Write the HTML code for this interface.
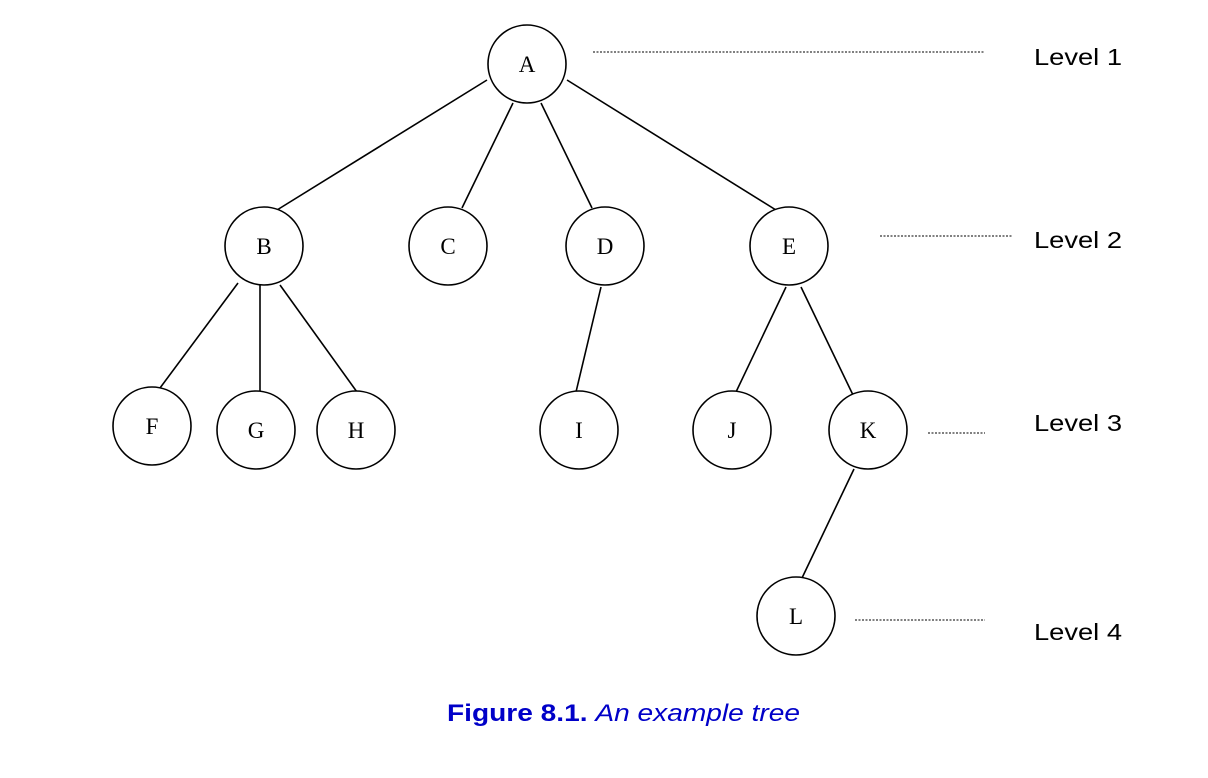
<!DOCTYPE html>
<html><head><meta charset="utf-8"><style>
html,body{margin:0;padding:0;background:#fff;}
svg{display:block;}
</style></head><body>
<svg width="1208" height="778" xmlns="http://www.w3.org/2000/svg">
<g stroke="#000" stroke-width="1.6" fill="none">
<line x1="487" y1="80" x2="277" y2="210"/>
<line x1="513" y1="103" x2="462" y2="208"/>
<line x1="541" y1="103" x2="592" y2="208"/>
<line x1="567" y1="80" x2="776" y2="210"/>
<line x1="238" y1="283" x2="160" y2="388"/>
<line x1="260" y1="285" x2="260" y2="392"/>
<line x1="280" y1="285" x2="357" y2="392"/>
<line x1="601" y1="287" x2="576" y2="392"/>
<line x1="786" y1="287" x2="736" y2="392"/>
<line x1="801" y1="287" x2="853" y2="395"/>
<line x1="854" y1="469" x2="802" y2="578"/>
</g>
<g stroke="#000" stroke-width="1" stroke-dasharray="2,1.5">
<line x1="593" y1="52" x2="985" y2="52"/>
<line x1="880" y1="236" x2="1012" y2="236"/>
<line x1="928" y1="433" x2="985" y2="433"/>
<line x1="855" y1="620" x2="985" y2="620"/>
</g>
<g stroke="#000" stroke-width="1.6" fill="#fff">
<circle cx="527" cy="64" r="39"/>
<circle cx="264" cy="246" r="39"/>
<circle cx="448" cy="246" r="39"/>
<circle cx="605" cy="246" r="39"/>
<circle cx="789" cy="246" r="39"/>
<circle cx="152" cy="426" r="39"/>
<circle cx="256" cy="430" r="39"/>
<circle cx="356" cy="430" r="39"/>
<circle cx="579" cy="430" r="39"/>
<circle cx="732" cy="430" r="39"/>
<circle cx="868" cy="430" r="39"/>
<circle cx="796" cy="616" r="39"/>
</g>
<g font-family="Liberation Serif, serif" font-size="23" text-anchor="middle" fill="#000">
<text x="527" y="72">A</text>
<text x="264" y="254">B</text>
<text x="448" y="254">C</text>
<text x="605" y="254">D</text>
<text x="789" y="254">E</text>
<text x="152" y="434">F</text>
<text x="256" y="438">G</text>
<text x="356" y="438">H</text>
<text x="579" y="438">I</text>
<text x="732" y="438">J</text>
<text x="868" y="438">K</text>
<text x="796" y="624">L</text>
</g>
<g font-family="Liberation Sans, sans-serif" font-size="23" fill="#000">
<text x="1034" y="65" textLength="88" lengthAdjust="spacingAndGlyphs">Level 1</text>
<text x="1034" y="248" textLength="88" lengthAdjust="spacingAndGlyphs">Level 2</text>
<text x="1034" y="431" textLength="88" lengthAdjust="spacingAndGlyphs">Level 3</text>
<text x="1034" y="640" textLength="88" lengthAdjust="spacingAndGlyphs">Level 4</text>
</g>
<text x="447" y="721" textLength="353" lengthAdjust="spacingAndGlyphs" font-family="Liberation Sans, sans-serif" font-size="24" fill="#0000c8"><tspan font-weight="bold">Figure 8.1.</tspan> <tspan font-style="italic">An example tree</tspan></text>
</svg>
</body></html>
